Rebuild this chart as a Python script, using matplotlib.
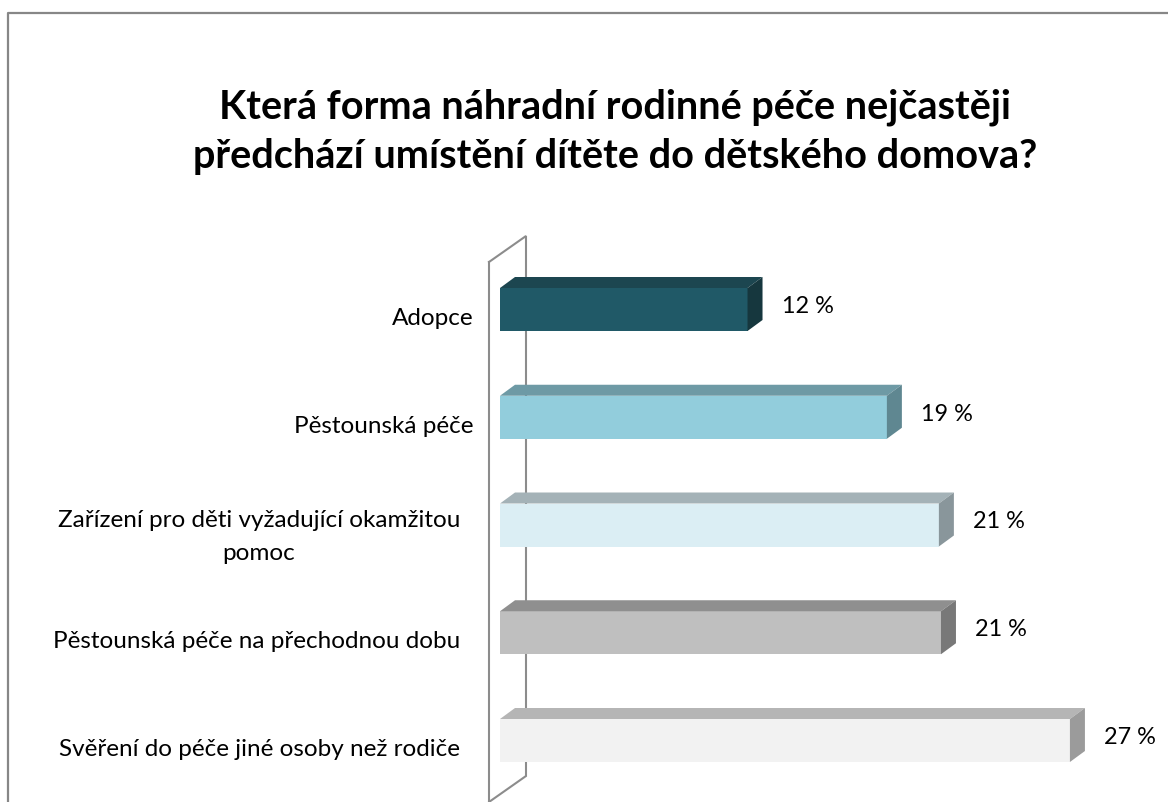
import matplotlib
matplotlib.use("Agg")
import matplotlib.pyplot as plt
from matplotlib.patches import Polygon
from matplotlib.lines import Line2D
import numpy as np

# ---------------- data ----------------
categories = [
    "Adopce",
    "Pěstounská péče",
    "Zařízení pro děti vyžadující okamžitou\npomoc",
    "Pěstounská péče na přechodnou dobu",
    "Svěření do péče jiné osoby než rodiče",
]
values = [11.9, 18.6, 21.1, 21.2, 27.4]
value_labels = ["12 %", "19 %", "21 %", "21 %", "27 %"]
title_lines = [
    "Která forma náhradní rodinné péče nejčastěji",
    "předchází umístění dítěte do dětského domova?",
]
front_colors = ["#205967", "#92cddc", "#dbeef4", "#bfbfbf", "#f2f2f2"]
top_colors = ["#1c4650", "#6e9aa5", "#a4b2b7", "#8f8f8f", "#b5b5b5"]
side_colors = ["#16373e", "#5f8791", "#89969b", "#787878", "#9b9b9b"]

# ---------------- layout ----------------
W, H = 1168, 803
FONT = ["Lato", "DejaVu Sans"]
plt.rcParams["font.family"] = FONT

fig = plt.figure(figsize=(W / 100, H / 100), dpi=100)
fig.patch.set_facecolor("white")
renderer = fig.canvas.get_renderer()

PX = 20.8        # pixels per percent
ROW = 107.75     # pixels per category
X0 = 500.0       # pixel of value 0
Y0 = 310.5       # pixel (from top) of first category centre

ax = fig.add_axes([0, 0, 1, 1])
ax.set_axis_off()
ax.set_xlim(-X0 / PX, (W - X0) / PX)
ax.set_ylim((H - Y0) / ROW, -Y0 / ROW)


def pd(x, y):
    """figure pixel (from top-left) -> data coords"""
    return ((x - X0) / PX, (y - Y0) / ROW)


def fx(x):
    return x / W


def fy(y):
    return 1 - y / H


def fit_size(text, target, **kw):
    t = fig.text(0, 0, text, fontsize=20, **kw)
    w = t.get_window_extent(renderer).width
    t.remove()
    return 20 * target / w


# outer frame (cropped chart area border)
fig.add_artist(Line2D([fx(8), fx(8), fx(W + 5)], [fy(H + 5), fy(14), fy(14)],
                      color="#878787", lw=1.6, transform=fig.transFigure))

# side wall of the 3D chart
wall = [pd(489, 263), pd(526, 237), pd(526, 777), pd(489, 803), pd(489, 263)]
wx, wy = zip(*wall)
ax.plot(wx, wy, color="#8c8c8c", lw=1.5, zorder=1, clip_on=False,
        solid_joinstyle="miter")
ax.plot([pd(489, 803)[0], pd(489, 810)[0]], [pd(489, 803)[1], pd(489, 810)[1]],
        color="#8c8c8c", lw=1.5, zorder=1, clip_on=False)

# bars
ypos = np.arange(len(categories))
bh = 43 / ROW
ddx = 15 / PX
ddy = -11 / ROW
ax.barh(ypos, values, height=bh, left=0, color=front_colors, linewidth=0, zorder=3)
for y, v, tc, sc in zip(ypos, values, top_colors, side_colors):
    top = y - bh / 2
    bot = y + bh / 2
    ax.add_patch(Polygon([(0, top), (v, top), (v + ddx, top + ddy), (ddx, top + ddy)],
                         closed=True, facecolor=tc, edgecolor="none", zorder=3))
    ax.add_patch(Polygon([(v, top), (v + ddx, top + ddy), (v + ddx, bot + ddy), (v, bot)],
                         closed=True, facecolor=sc, edgecolor="none", zorder=3))

# value labels
vsize = fit_size("21 %", 52)
for y, v, lab in zip(ypos, values, value_labels):
    xpx = X0 + v * PX + 15 + 19
    ypx = Y0 + y * ROW - 4
    fig.text(fx(xpx), fy(ypx), lab, fontsize=vsize, ha="left", va="center",
             color="black")

# category labels
csize = fit_size("Pěstounská péče na přechodnou dobu", 408)
for y, lab in zip(ypos, categories):
    multi = "\n" in lab
    ypx = Y0 + y * ROW + (11 if multi else 8)
    t = fig.text(0, 0, lab.split("\n")[0], fontsize=csize)
    wdt = t.get_window_extent(renderer).width
    t.remove()
    right = 474 if wdt < 300 else 460
    fig.text(fx(right), fy(ypx), lab, fontsize=csize, ha="right", va="center",
             multialignment="center", color="black", linespacing=1.75)

# title
tsize = fit_size(title_lines[1], 845, fontweight="bold")
fig.text(fx(615), fy(119), title_lines[0], fontsize=tsize, fontweight="bold",
         ha="center", va="baseline", color="black")
fig.text(fx(615), fy(168), title_lines[1], fontsize=tsize, fontweight="bold",
         ha="center", va="baseline", color="black")

fig.savefig("out.png", dpi=100, facecolor="white")
